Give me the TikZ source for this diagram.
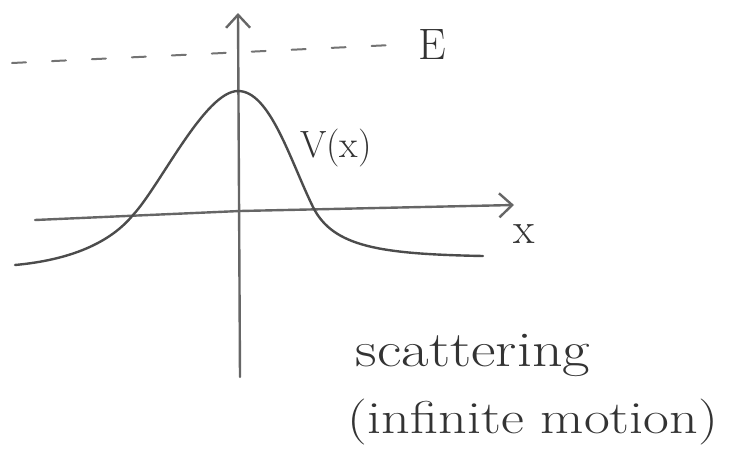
\documentclass[tikz,border=0pt]{standalone}
\usetikzlibrary{arrows.meta}
\begin{document}
\begin{tikzpicture}[x=1pt,y=-1pt,
  pencil/.style={draw=black!75, line width=2.4pt, line cap=round},
  axis/.style={pencil, draw=black!60, -{Straight Barb[length=13pt,width=24pt,line width=2.4pt]}},
  lbl/.style={inner sep=0pt, text=black!80},
]
\useasboundingbox (0,0) rectangle (729,469);
% axes
\coordinate (ybot) at (240,377);
\coordinate (ytop) at (238,13);
\coordinate (xleft) at (35,220);
\coordinate (xright) at (514,205);
\draw[axis] (ybot) -- (ytop);
\draw[axis] (xleft) -- (240,211) -- (xright);
% energy level
\coordinate (eleft) at (12,63);
\coordinate (eright) at (392,45);
\draw[pencil, draw=black!55, line width=2pt, dash pattern=on 14pt off 26pt] (eleft) -- (eright);
\node[lbl, font=\fontsize{44}{50}\selectfont] (E) at (432,45) {E};
% potential
\draw[pencil, draw=black!70] (15,265)
  .. controls (70,260) and (110,243) .. (133,215)
  .. controls (160,186) and (205,91) .. (238,91)
  .. controls (270,91) and (290,160) .. (313,207)
  .. controls (333,247) and (380,254) .. (483,256);
\node[lbl, font=\fontsize{38}{44}\selectfont] (V) at (336,148) {V(x)};
\node[lbl, font=\fontsize{44}{50}\selectfont] (x) at (524,234) {x};
% text
\node[lbl, font=\fontsize{50}{54}\selectfont, xscale=1.2] (s) at (473,355) {scattering};
\node[lbl, font=\fontsize{46}{50}\selectfont, xscale=1.22] (m) at (533,422) {(infinite motion)};
\end{tikzpicture}
\end{document}
